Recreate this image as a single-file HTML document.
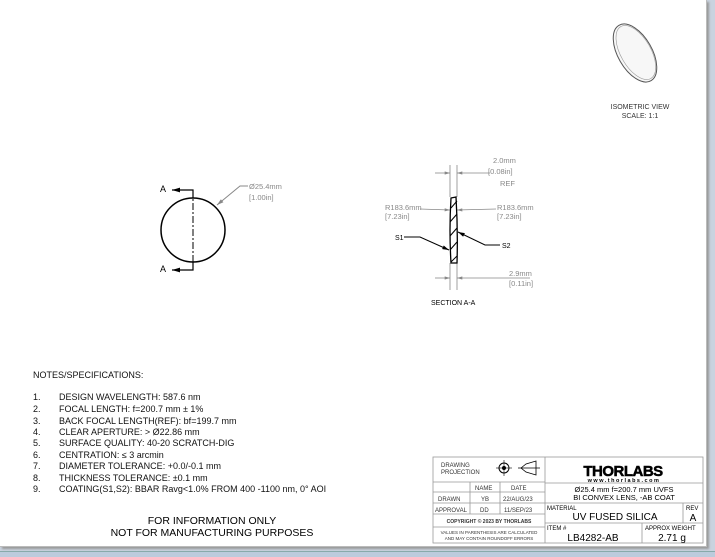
<!DOCTYPE html>
<html><head><meta charset="utf-8"><style>
html,body{margin:0;padding:0;}
body{width:715px;height:556px;overflow:hidden;background:#c9d3df;position:relative;font-family:"Liberation Sans",sans-serif;}
#sheet{position:absolute;left:0;top:0;width:706px;height:546px;background:#fff;box-shadow:2px 2px 2px #999;border-right:1px solid #bbb;border-bottom:1px solid #bbb;}
#bar{position:absolute;left:0;top:551px;width:715px;height:5px;background:#bccbdc;border-top:1px solid #8aa;}
svg{position:absolute;left:0;top:0;}
text{font-family:"Liberation Sans",sans-serif;}
</style></head><body>
<div id="sheet"></div><div id="bar"></div>
<svg width="715" height="556" viewBox="0 0 715 556">
<defs><marker id="ar" viewBox="0 0 10 6" refX="10" refY="3" markerWidth="8" markerHeight="4" orient="auto"><path d="M0,0L10,3L0,6z" fill="#000"/></marker>
<marker id="ag" viewBox="0 0 10 6" refX="10" refY="3" markerWidth="8" markerHeight="4" orient="auto"><path d="M0,0L10,3L0,6z" fill="#888"/></marker></defs>
<!-- front view -->
<circle cx="193" cy="230" r="32" fill="none" stroke="#000" stroke-width="1.5"/>
<line x1="193" y1="190" x2="193" y2="270" stroke="#000" stroke-width="1" stroke-dasharray="7,2,2,2"/>
<polyline points="193,198 193,190 172,190" fill="none" stroke="#000" stroke-width="1.2" marker-end="url(#ar)"/>
<polyline points="193,262 193,270 172,270" fill="none" stroke="#000" stroke-width="1.2" marker-end="url(#ar)"/>
<text x="160" y="192" font-size="9">A</text><text x="160" y="272" font-size="9">A</text>
<polyline points="248,186 240,186 217,205" fill="none" stroke="#888" stroke-width="1" marker-end="url(#ag)"/>
<text x="249" y="189" font-size="7.5" fill="#888">Ø25.4mm</text>
<text x="249" y="200" font-size="7.5" fill="#888">[1.00in]</text>
<!-- section -->
<g stroke="#888" stroke-width="0.8" fill="none">
<line x1="450" y1="165" x2="450" y2="197"/><line x1="457" y1="165" x2="457" y2="197"/>
<line x1="450" y1="263" x2="450" y2="290"/><line x1="457" y1="263" x2="457" y2="290"/>
<line x1="435" y1="173" x2="450" y2="173" marker-end="url(#ag)"/><line x1="490" y1="173" x2="457" y2="173" marker-end="url(#ag)"/>
<line x1="435" y1="278" x2="450" y2="278" marker-end="url(#ag)"/><line x1="530" y1="278" x2="457" y2="278" marker-end="url(#ag)"/>
<line x1="420" y1="209" x2="450" y2="210" marker-end="url(#ag)"/><line x1="496" y1="209" x2="457" y2="210" marker-end="url(#ag)"/>
</g>
<path d="M451,198 L456,197 Q458,230 457,263 L451,263 Q449,230 451,198Z" fill="#fff" stroke="#000" stroke-width="1.3"/>
<g stroke="#000" stroke-width="1"><line x1="451" y1="208" x2="457" y2="201"/><line x1="450" y1="222" x2="457" y2="214"/><line x1="450" y1="236" x2="457" y2="228"/><line x1="450" y1="250" x2="457" y2="242"/><line x1="451" y1="262" x2="457" y2="256"/></g>
<polyline points="404,237 420,237 449,250" fill="none" stroke="#000" stroke-width="1" marker-end="url(#ar)"/>
<polyline points="500,245 485,245 458,232" fill="none" stroke="#000" stroke-width="1" marker-end="url(#ar)"/>
<text x="395" y="240" font-size="7">S1</text><text x="502" y="248" font-size="7">S2</text>
<g font-size="7.5" fill="#888"><text x="493" y="163">2.0mm</text><text x="488" y="174">[0.08in]</text><text x="500" y="186">REF</text>
<text x="385" y="210">R183.6mm</text><text x="385" y="219">[7.23in]</text>
<text x="497" y="210">R183.6mm</text><text x="497" y="219">[7.23in]</text>
<text x="509" y="276">2.9mm</text><text x="509" y="286">[0.11in]</text></g>
<text x="431" y="305" font-size="7">SECTION A-A</text>
<!-- isometric -->
<g transform="rotate(-30 635 53)"><ellipse cx="635" cy="53" rx="17" ry="32" fill="#f7f7f7" stroke="#555" stroke-width="1"/><ellipse cx="636" cy="53" rx="15" ry="30" fill="none" stroke="#999" stroke-width="0.6"/></g>
<text x="640" y="109" font-size="7" text-anchor="middle" fill="#333">ISOMETRIC VIEW</text>
<text x="640" y="118" font-size="7" text-anchor="middle" fill="#333">SCALE: 1:1</text>
<!-- notes -->
<g font-size="9" fill="#111">
<text x="33" y="378">NOTES/SPECIFICATIONS:</text>
<text x="33" y="400">1.</text><text x="59" y="400">DESIGN WAVELENGTH: 587.6 nm</text>
<text x="33" y="412">2.</text><text x="59" y="412">FOCAL LENGTH: f=200.7 mm ± 1%</text>
<text x="33" y="424">3.</text><text x="59" y="424">BACK FOCAL LENGTH(REF): bf=199.7 mm</text>
<text x="33" y="435">4.</text><text x="59" y="435">CLEAR APERTURE: &gt; Ø22.86 mm</text>
<text x="33" y="446">5.</text><text x="59" y="446">SURFACE QUALITY: 40-20 SCRATCH-DIG</text>
<text x="33" y="458">6.</text><text x="59" y="458">CENTRATION: ≤ 3 arcmin</text>
<text x="33" y="469">7.</text><text x="59" y="469">DIAMETER TOLERANCE: +0.0/-0.1 mm</text>
<text x="33" y="481">8.</text><text x="59" y="481">THICKNESS TOLERANCE: ±0.1 mm</text>
<text x="33" y="492">9.</text><text x="59" y="492">COATING(S1,S2): BBAR Ravg&lt;1.0% FROM 400 -1100 nm, 0° AOI</text>
</g>
<text x="212" y="524" font-size="10.5" text-anchor="middle">FOR INFORMATION ONLY</text>
<text x="212" y="536" font-size="10.5" text-anchor="middle">NOT FOR MANUFACTURING PURPOSES</text>
<!-- title block -->
<g stroke="#999" stroke-width="0.8" fill="none">
<rect x="433" y="457" width="270" height="86"/>
<line x1="545" y1="457" x2="545" y2="543"/>
<line x1="433" y1="482" x2="545" y2="482"/><line x1="433" y1="492" x2="545" y2="492"/>
<line x1="433" y1="503" x2="545" y2="503"/><line x1="433" y1="514" x2="545" y2="514"/><line x1="433" y1="527" x2="545" y2="527"/>
<line x1="470" y1="482" x2="470" y2="514"/><line x1="500" y1="482" x2="500" y2="514"/>
<line x1="545" y1="483" x2="703" y2="483"/><line x1="545" y1="503" x2="703" y2="503"/><line x1="545" y1="523" x2="703" y2="523"/>
<line x1="683" y1="503" x2="683" y2="523"/><line x1="642" y1="523" x2="642" y2="543"/>
</g>
<g font-size="6" fill="#333">
<text x="441" y="467">DRAWING</text><text x="441" y="474">PROJECTION</text>
<text x="475" y="490">NAME</text><text x="511" y="490">DATE</text>
<text x="438" y="501">DRAWN</text><text x="481" y="501">YB</text><text x="503" y="501">22/AUG/23</text>
<text x="435" y="512">APPROVAL</text><text x="480" y="512">DD</text><text x="504" y="512">11/SEP/23</text>
<text x="489" y="523" font-size="5" text-anchor="middle" font-weight="bold">COPYRIGHT © 2023 BY THORLABS</text>
<text x="489" y="534" font-size="4.5" text-anchor="middle">VALUES IN PARENTHESIS ARE CALCULATED</text>
<text x="489" y="540" font-size="4.5" text-anchor="middle">AND MAY CONTAIN ROUNDOFF ERRORS</text>
</g>
<circle cx="504" cy="468" r="5" fill="none" stroke="#000"/><circle cx="504" cy="468" r="2" fill="#000"/>
<line x1="496" y1="468" x2="512" y2="468" stroke="#000" stroke-width="0.6"/><line x1="504" y1="460" x2="504" y2="476" stroke="#000" stroke-width="0.6"/>
<path d="M521,468 L526,464 L536,461 L536,475 L526,472 Z M518,468 L540,468" fill="none" stroke="#000" stroke-width="0.8"/>
<text x="623" y="476" font-size="15" font-weight="bold" text-anchor="middle" fill="#000" stroke="#000" stroke-width="0.5" letter-spacing="-0.5">THORLABS</text>
<text x="624" y="482" font-size="5.5" text-anchor="middle" letter-spacing="1.5" font-weight="bold">www.thorlabs.com</text>
<text x="624" y="492" font-size="7.5" text-anchor="middle">Ø25.4 mm f=200.7 mm UVFS</text>
<text x="624" y="500" font-size="7.5" text-anchor="middle">BI CONVEX LENS, -AB COAT</text>
<text x="547" y="510" font-size="6">MATERIAL</text>
<text x="615" y="520" font-size="10" text-anchor="middle">UV FUSED SILICA</text>
<text x="686" y="510" font-size="6">REV</text><text x="693" y="521" font-size="10" text-anchor="middle">A</text>
<text x="547" y="530" font-size="6">ITEM #</text>
<text x="593" y="541" font-size="10" text-anchor="middle">LB4282-AB</text>
<text x="645" y="530" font-size="6">APPROX WEIGHT</text>
<text x="672" y="541" font-size="10" text-anchor="middle">2.71 g</text>
</svg>
</body></html>
